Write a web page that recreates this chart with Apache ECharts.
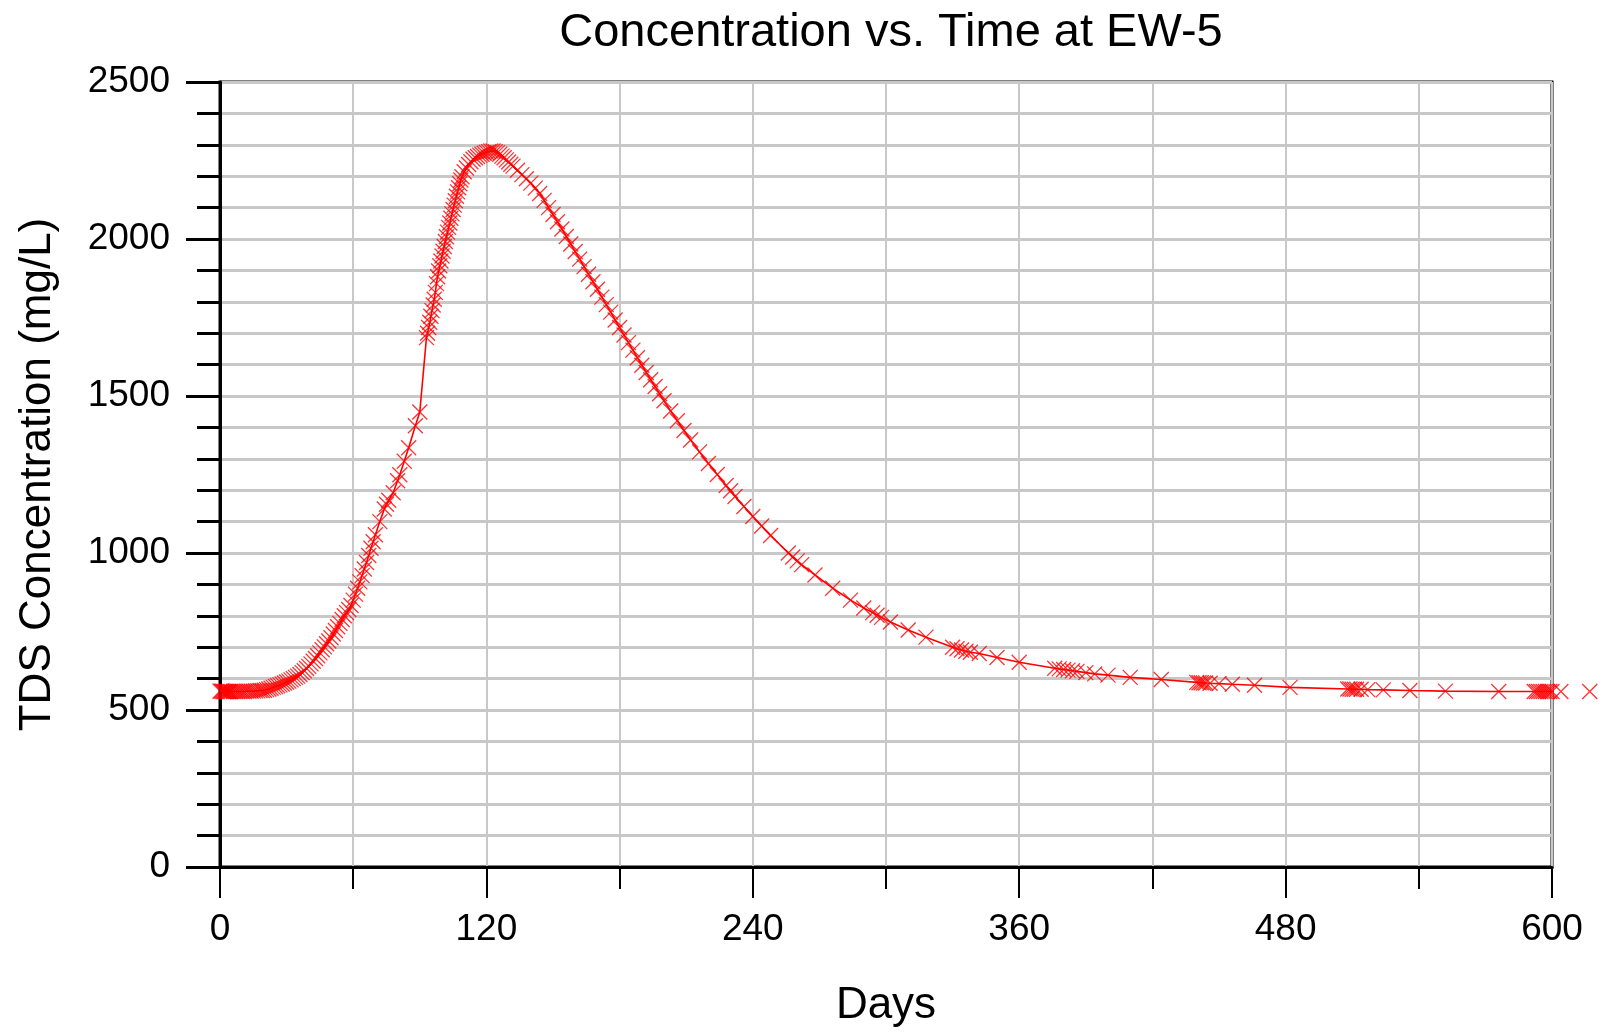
<!DOCTYPE html>
<html>
<head>
<meta charset="utf-8">
<title>Concentration vs. Time at EW-5</title>
<script src="https://cdn.jsdelivr.net/npm/echarts@6/dist/echarts.min.js"></script>
<style>
  html, body { margin: 0; padding: 0; background: #fff; }
  #chart { width: 1606px; height: 1033px; }
</style>
</head>
<body>
<div id="chart"></div>
<script>
// TDS concentration (days, mg/L)
const days = [
  0, 0.5, 1, 1.5, 2, 2.5, 3, 3.5, 4, 4.5, 5, 6, 7, 8, 9, 10, 11, 12, 13, 14,
  15, 16, 17, 18, 19, 20, 21, 22, 23, 24, 25, 26, 27, 28, 29, 30,
  31, 32, 33, 34, 35, 36, 37, 38, 39, 40, 41, 42, 43, 44, 45, 46, 47, 48, 49, 50,
  51, 52, 53, 54, 55, 56, 57, 58, 59, 60, 61, 62, 63, 64, 65, 66, 67, 68, 69, 70,
  72, 74, 75, 76, 78, 80, 81, 83, 85, 88, 90,
  93, 93.5, 94, 94.5, 95, 95.5, 96, 96.5, 97, 97.5, 98, 98.5, 99, 99.5, 100,
  100.5, 101, 101.5, 102, 102.5, 103, 103.5, 104, 104.5, 105, 105.5, 106, 106.5,
  107, 107.5, 108, 108.5, 109, 110, 111, 112, 113, 114, 115, 116, 117, 118, 119,
  120, 121, 122, 123, 124, 125, 126, 127, 128, 129, 130, 131, 132, 134, 136, 138,
  140, 142, 144, 146, 148, 150, 152, 154, 156, 158, 160, 162, 164, 166, 168, 170,
  172, 174, 176, 178, 180, 182, 184, 186, 188, 190, 192, 194, 196, 198, 200,
  203, 206, 209, 212, 216, 220, 224, 228, 230, 232, 236, 240, 244, 248, 256, 258,
  260, 262, 268, 276, 284, 290, 294, 296, 298, 302, 310, 318, 330, 332, 334, 336,
  338, 342, 350, 360, 376, 378, 380, 382, 384, 386, 390, 394, 400, 410, 424,
  440, 441, 442, 443, 444, 446, 450, 456, 466, 482, 508, 509, 510, 511, 512, 514,
  517, 524, 536, 552, 576, 592, 593, 594, 595, 596, 597, 598, 599, 600, 604, 617
];
const tds = [
  560, 560, 560, 559, 559, 559, 559, 559, 559, 559, 559, 559, 559, 559, 559, 559, 559, 560, 560, 560,
  560, 561, 561, 562, 562, 563, 565, 567, 569, 572, 575, 577, 580, 583, 586, 589,
  592, 596, 600, 604, 608, 613, 619, 625, 632, 639, 647, 655, 664, 673, 682, 692, 701, 711, 720, 730,
  742, 753, 765, 776, 788, 800, 810, 820, 833, 850, 869, 888, 908, 928, 949, 970, 992, 1015, 1036, 1058,
  1100, 1140, 1155, 1168, 1192, 1230, 1249, 1292, 1335, 1405, 1449,
  1686, 1700, 1718, 1735, 1754, 1772, 1790, 1808, 1830, 1858, 1880, 1898, 1915, 1930, 1946,
  1961, 1976, 1992, 2007, 2022, 2037, 2051, 2066, 2080, 2094, 2108, 2122, 2136,
  2150, 2163, 2176, 2188, 2198, 2214, 2226, 2237, 2246, 2254, 2259, 2263, 2267, 2270, 2273,
  2276, 2278, 2280, 2280, 2278, 2275, 2270, 2264, 2259, 2252, 2245, 2238, 2232, 2219, 2205, 2192,
  2178, 2162, 2145, 2123, 2100, 2078, 2055, 2032, 2008, 1984, 1960, 1936, 1912, 1888, 1864, 1840,
  1815, 1791, 1767, 1742, 1718, 1694, 1670, 1646, 1622, 1598, 1575, 1552, 1530, 1507, 1485,
  1452, 1421, 1390, 1360, 1322, 1285, 1250, 1215, 1198, 1180, 1148, 1116, 1086, 1056, 1000, 987,
  975, 963, 930, 888, 850, 825, 810, 802, 795, 780, 755, 732, 700, 695, 691, 687,
  684, 680, 667, 652, 633, 631, 629, 627, 625, 623, 619, 615, 611, 604, 597,
  588, 587, 587, 586, 586, 585, 584, 582, 579, 572, 567, 567, 566, 566, 566, 566,
  565, 564, 562, 560, 559, 559, 559, 559, 559, 559, 559, 559, 559, 559, 559, 559
];
const xTicks = [0, 120, 240, 360, 480, 600];
const yTicks = [0, 500, 1000, 1500, 2000, 2500];

const points = days.map((d, i) => [d, tds[i]]);

const chart = echarts.init(document.getElementById('chart'));
const font = '"Liberation Sans", Arial, sans-serif';
const gridGrey = '#c8c8c8';

const option = {
  animation: false,
  backgroundColor: '#fff',
  title: {
    text: 'Concentration vs. Time at EW-5',
    left: 886,
    top: 5,
    textAlign: 'center',
    textStyle: { fontFamily: font, fontSize: 47, fontWeight: 'normal', color: '#000' }
  },
  grid: {
    left: 220,
    right: 54,
    top: 82,
    bottom: 160,
    show: true,
    borderColor: '#000',
    borderWidth: 3,
    containLabel: false
  },
  xAxis: {
    type: 'value',
    min: xTicks[0],
    max: xTicks[xTicks.length - 1],
    interval: xTicks[1] - xTicks[0],
    name: 'Days',
    nameLocation: 'middle',
    nameGap: 117,
    nameTextStyle: { fontFamily: font, fontSize: 44, color: '#000' },
    axisLine: { show: true, lineStyle: { color: '#000', width: 3 } },
    axisTick: { show: true, length: 31, lineStyle: { color: '#000', width: 2 } },
    minorTick: { show: true, splitNumber: 2, length: 22, lineStyle: { color: '#000', width: 2 } },
    splitLine: { show: true, lineStyle: { color: gridGrey, width: 2 } },
    minorSplitLine: { show: true, lineStyle: { color: gridGrey, width: 2 } },
    axisLabel: { fontFamily: font, fontSize: 37, color: '#000', margin: 44, formatter: v => String(v) }
  },
  yAxis: {
    type: 'value',
    min: yTicks[0],
    max: yTicks[yTicks.length - 1],
    interval: yTicks[1] - yTicks[0],
    name: 'TDS Concentration (mg/L)',
    nameLocation: 'middle',
    nameGap: 160,
    nameTextStyle: { fontFamily: font, fontSize: 44, color: '#000' },
    axisLine: { show: true, lineStyle: { color: '#000', width: 3 } },
    axisTick: { show: true, length: 34, lineStyle: { color: '#000', width: 3 } },
    minorTick: { show: true, splitNumber: 5, length: 23, lineStyle: { color: '#000', width: 3 } },
    splitLine: { show: true, lineStyle: { color: gridGrey, width: 3 } },
    minorSplitLine: { show: true, lineStyle: { color: gridGrey, width: 3 } },
    axisLabel: { fontFamily: font, fontSize: 37, color: '#000', margin: 50, formatter: v => String(v) }
  },
  series: [
    {
      // connecting line, clipped to the plot
      type: 'line',
      data: points,
      showSymbol: false,
      clip: true,
      lineStyle: { color: '#ff0000', width: 1.6 },
      z: 3
    },
    {
      // x markers, allowed to spill past the right edge like the original
      type: 'scatter',
      data: points,
      symbol: 'path://M0,0L10,10M10,0L0,10',
      symbolSize: 15,
      clip: false,
      itemStyle: { color: 'rgba(0,0,0,0)', borderColor: '#ff0000', borderWidth: 1.3 },
      z: 4
    }
  ]
};

chart.setOption(option);
</script>
</body>
</html>
